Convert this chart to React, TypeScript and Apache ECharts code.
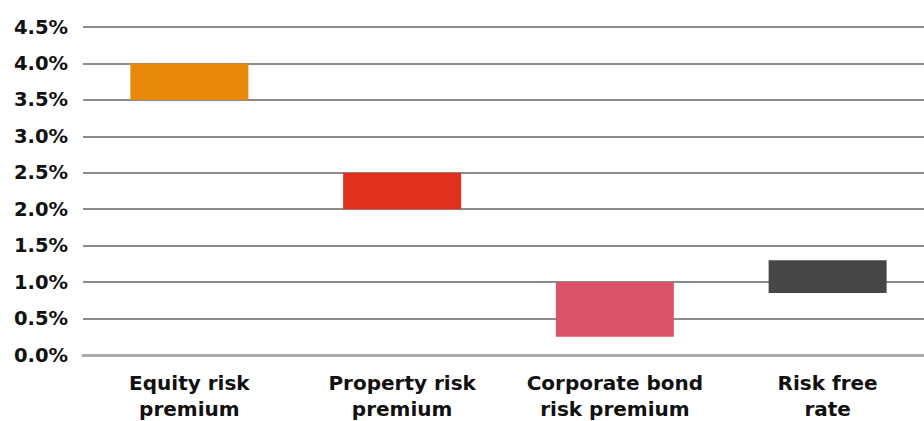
import React, { useEffect, useRef } from "react";
import * as echarts from "echarts";

const categories = ["Equity risk\npremium", "Property risk\npremium", "Corporate bond\nrisk premium", "Risk free\nrate"];
const lowValues = [3.5, 2.0, 0.25, 0.85];
const highValues = [4.0, 2.5, 1.0, 1.3];
const barColors = ["#E8890C", "#E0301E", "#DB536A", "#464646"];

export default function App() {
  const ref = useRef<HTMLDivElement>(null);
  useEffect(() => {
    if (!ref.current) return;
    const chart = echarts.init(ref.current, null, { renderer: "svg" });
    chart.setOption({
      animation: false,
      grid: { left: 83, width: 851, top: 27, height: 328, outerBoundsMode: "none", containLabel: false },
      xAxis: {
        type: "category",
        data: categories,
        axisLine: { show: true, lineStyle: { color: "#ababab", width: 3 } },
        axisTick: { show: false },
        axisLabel: {
          color: "#111",
          fontFamily: "DejaVu Sans, sans-serif",
          fontWeight: "bold",
          fontSize: 20,
          lineHeight: 26,
          margin: 15,
          interval: 0,
        },
      },
      yAxis: {
        type: "value",
        min: 0,
        max: 4.5,
        interval: 0.5,
        axisLine: { show: false },
        axisTick: { show: false },
        splitLine: { lineStyle: { color: "#8c8c8c", width: 2 } },
        axisLabel: {
          color: "#111",
          fontFamily: "DejaVu Sans, sans-serif",
          fontWeight: "bold",
          fontSize: 19.5,
          margin: 15,
          formatter: (v: number) => v.toFixed(1) + "%",
        },
      },
      series: [
        {
          type: "bar",
          stack: "r",
          data: lowValues,
          itemStyle: { color: "transparent" },
          barWidth: 118,
          silent: true,
        },
        {
          type: "bar",
          stack: "r",
          data: highValues.map((h, i) => ({
            value: +(h - lowValues[i]).toFixed(4),
            itemStyle: { color: barColors[i] },
          })),
          barWidth: 118,
        },
      ],
    });
    return () => chart.dispose();
  }, []);
  return (
    <div
      ref={ref}
      style={{ position: "absolute", left: 0, top: 0, width: 924, height: 421 }}
    />
  );
}
